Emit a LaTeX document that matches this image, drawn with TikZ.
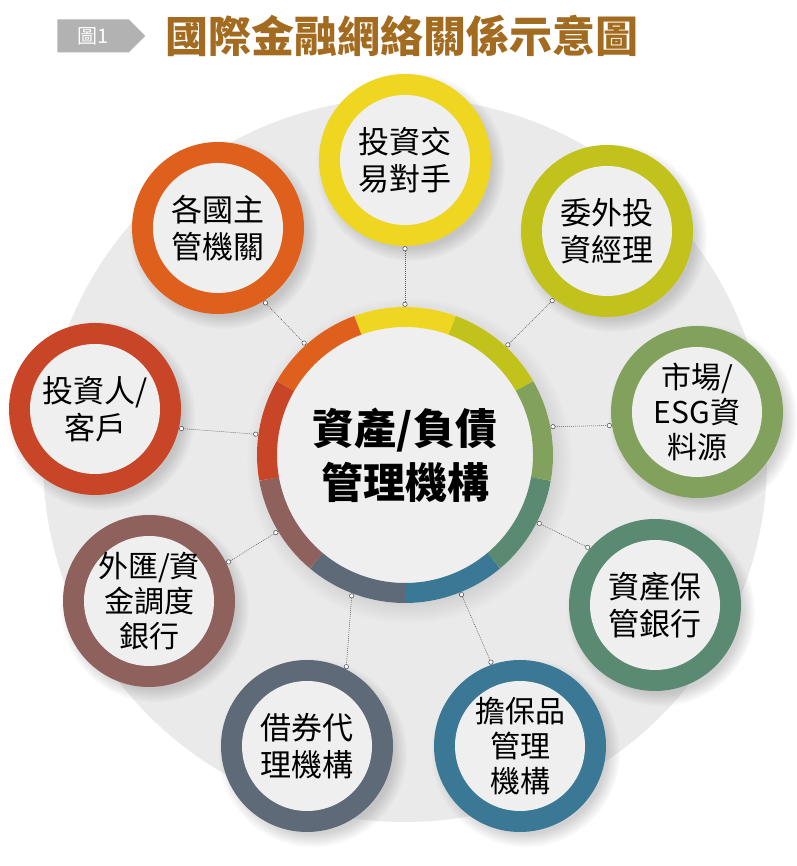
\documentclass[tikz,border=0pt]{standalone}
\usepackage{fontspec}
\newfontfamily\cjk{Noto Sans CJK TC}
\usepackage{tikz}
\usetikzlibrary{positioning,shadows,shapes.symbols,arrows.meta}
\definecolor{cyellow}{HTML}{EFD620}
\definecolor{cyg}{HTML}{C2C21C}
\definecolor{colive}{HTML}{82A15C}
\definecolor{csage}{HTML}{5A8B72}
\definecolor{cblue}{HTML}{3A7895}
\definecolor{cslate}{HTML}{5E6A77}
\definecolor{cmauve}{HTML}{8E615C}
\definecolor{cred}{HTML}{C94528}
\definecolor{corange}{HTML}{DE601C}
\definecolor{satin}{HTML}{EFEFEF}
\definecolor{backdrop}{HTML}{EAEAEA}
\definecolor{titlebrown}{HTML}{A36B1F}
\tikzset{sat node/.style={circle,fill=#1,minimum size=172pt,inner sep=0pt,align=center,
    font=\cjk\fontsize{31}{37}\selectfont,
    circular drop shadow={shadow xshift=5pt,shadow yshift=-6pt,opacity=.35},
    path picture={\fill[satin] (path picture bounding box.center) circle (65pt);}},
  tall/.style={font=\cjk\fontsize{30}{35}\selectfont},
  hub node/.style={circle,fill=satin,minimum size=296pt,inner sep=0pt,align=center,
    font=\cjk\bfseries\fontsize{42}{54}\selectfont,
    circular drop shadow={shadow xshift=4pt,shadow yshift=-5pt,opacity=.25}},
  link/.style={draw=black!65,line width=.5pt,dash pattern=on 1pt off 1pt,
    {Circle[length=5pt,fill=white,line width=.6pt]}-{Circle[length=5pt,fill=white,line width=.6pt]}}}

\begin{document}
\begin{tikzpicture}[x=1pt,y=1pt]
    \useasboundingbox (0,0) rectangle (796,866);
    \fill[white] (0,0) rectangle (796,866);

    % header
    \node[signal,signal to=east,fill=gray!60,text=white,minimum width=88pt,minimum height=33pt,
      inner sep=0pt,font=\cjk\fontsize{20}{20}\selectfont] (tag) at (93,830) {圖1};
    \node[right=20pt of tag,inner sep=0pt,text=titlebrown,
      font=\cjk\bfseries\fontsize{43}{43}\selectfont] (title) {國際金融網絡關係示意圖};

    \fill[backdrop] (405,406) circle (362pt);

    % center
    \node[hub node] (hub) at (405,411) {資產/負債\\管理機構};
    \foreach \a/\c in {90/cyellow,50/cyg,10/colive,-30/csage,-70/cblue,-110/cslate,-150/cmauve,170/cred,130/corange}
        \draw[\c,line width=20pt] ([shift={(\a-20:138pt)}]hub.center) arc[start angle=\a-20,end angle=\a+20,radius=138pt];

    % partners
    \node[sat node=cyellow] (s1) at (405,706) {投資交\\易對手};
    \node[sat node=cyg] (s2) at (607,635) {委外投\\資經理};
    \node[sat node=colive,tall] (s3) at (697,454) {市場/\\ESG資\\料源};
    \node[sat node=csage] (s4) at (655,261) {資產保\\管銀行};
    \node[sat node=cblue,tall] (s5) at (520,120) {擔保品\\管理\\機構};
    \node[sat node=cslate] (s6) at (307,120) {借券代\\理機構};
    \node[sat node=cmauve,tall] (s7) at (149,265) {外匯/資\\金調度\\銀行};
    \node[sat node=cred] (s8) at (95,457) {投資人/\\客戶};
    \node[sat node=corange] (s9) at (218,638) {各國主\\管機關};

    \foreach \s/\h/\t in {1/90/-90,2/47/232,3/11/189,4/-27/139,5/-68/109,6/-111/63,7/211/26,8/172/-13,9/132/-58}
        \draw[link] (hub.\h) -- (s\s.\t);
\end{tikzpicture}
\end{document}
